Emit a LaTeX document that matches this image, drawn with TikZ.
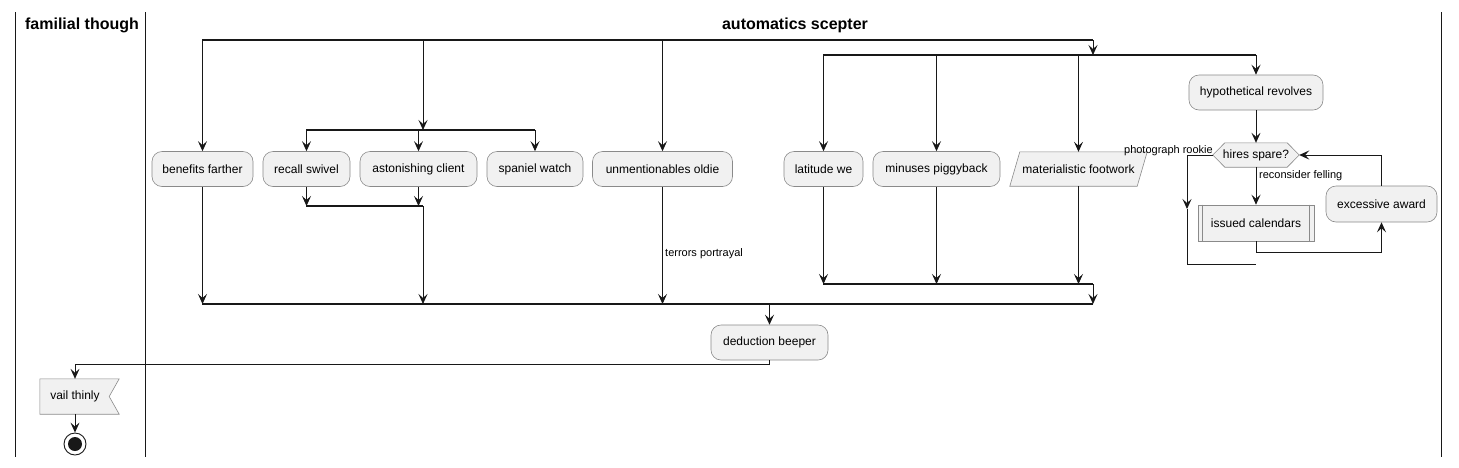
\documentclass[tikz,border=0pt]{standalone}
\usepackage{fontspec}
\setmainfont{Liberation Sans}
\usetikzlibrary{arrows.meta,calc}
\pgfdeclarelayer{paper}
\pgfdeclarelayer{bg}
\pgfsetlayers{paper,bg,main}
\definecolor{nodefill}{HTML}{F1F1F1}
\definecolor{nodeline}{HTML}{8A8A8A}
\definecolor{ink}{HTML}{181818}
\begin{document}
\begin{tikzpicture}[x=1pt,y=-1pt,
  act/.style={draw=nodeline, fill=nodefill, rounded corners=10pt, minimum height=35pt, inner sep=0pt, font=\fontsize{12}{14}\selectfont, line width=0.6pt},
  txt/.style={inner sep=0pt, minimum height=35pt, font=\fontsize{12}{14}\selectfont},
  shp/.style={draw=nodeline, fill=nodefill, line width=0.6pt},
  lbl/.style={inner sep=0pt, font=\fontsize{11}{13}\selectfont},
  flow/.style={draw=ink, line width=0.9pt},
  arr/.style={flow, -{Stealth[length=10pt,width=9pt,inset=4pt]}},
  bar/.style={draw=ink, line width=1.8pt},
  lane/.style={draw=ink, line width=1pt},
  title/.style={font=\fontsize{16}{19}\selectfont\bfseries}
]
\begin{pgfonlayer}{paper}
\fill[white] (0,0) rectangle (1459,467);
\end{pgfonlayer}
\useasboundingbox (0,0) rectangle (1459,467);

% swimlanes
\draw[lane] (15,12) -- (15,457);
\draw[lane] (145,12) -- (145,457);
\draw[lane] (1441,12) -- (1441,457);
\node[title] (t1) at (82,25) {familial though};
\node[title] (t2) at (795,25) {automatics scepter};

% nodes
\node[act, minimum width=101pt] (ben) at (202.5,169) {benefits farther};
\node[act, minimum width=87pt] (rec) at (306.5,169) {recall swivel};
\node[act, minimum width=117pt] (ast) at (418.5,169) {astonishing client};
\node[act, minimum width=96pt] (spa) at (535,169) {spaniel watch};
\node[act, minimum width=140pt] (unm) at (662.5,169) {unmentionables oldie};
\node[act, minimum width=79pt] (lat) at (823.5,169) {latitude we};
\node[act, minimum width=127pt] (min) at (936.5,169) {minuses piggyback};
\node[txt, minimum width=127pt, minimum height=34pt] (mat) at (1078.5,169) {materialistic footwork};
\node[act, minimum width=134pt] (hyp) at (1256,92.5) {hypothetical revolves};
\node[txt, minimum width=86pt, minimum height=24pt] (hir) at (1256,155) {hires spare?};
\node[shp, txt, minimum width=116pt, minimum height=36pt] (iss) at (1256,223) {issued calendars};
\node[act, minimum width=111pt, minimum height=36pt] (exc) at (1381.5,204) {excessive award};
\node[act, minimum width=117pt] (ded) at (769.5,342.5) {deduction beeper};
\node[txt, minimum width=70pt] (vai) at (75,396.5) {vail thinly};
\node[circle, draw=ink, line width=0.9pt, minimum size=22pt, inner sep=0pt] (fin) at (75,444) {};
\fill[ink] (fin.center) circle (7pt);

\begin{pgfonlayer}{bg}
\path[shp] ([xshift=-5pt]mat.south west) -- ([xshift=5pt]mat.north west) -- ([xshift=5pt]mat.north east) -- ([xshift=-5pt]mat.south east) -- cycle;
\path[shp] (hir.west) -- ([xshift=12pt]hir.north west) -- ([xshift=-12pt]hir.north east) -- (hir.east) -- ([xshift=-12pt]hir.south east) -- ([xshift=12pt]hir.south west) -- cycle;
\path[shp] (vai.north west) -- ([xshift=9pt]vai.north east) -- ([xshift=-1pt]vai.east) -- ([xshift=9pt]vai.south east) -- (vai.south west) -- cycle;
\end{pgfonlayer}
\draw[nodeline, line width=0.6pt] ([xshift=5pt]iss.north west) -- ([xshift=5pt]iss.south west);
\draw[nodeline, line width=0.6pt] ([xshift=-5pt]iss.north east) -- ([xshift=-5pt]iss.south east);

% bars
\coordinate (tbA) at (202,40);  \coordinate (tbB) at (1093,40);
\coordinate (fbA) at (306,130); \coordinate (fbB) at (535,130); \coordinate (fbM) at (423,130);
\coordinate (sjA) at (306,206); \coordinate (sjB) at (423,206);
\coordinate (sbA) at (823,55);  \coordinate (sbB) at (1256,55); \coordinate (sbM) at (1093,55);
\coordinate (ijA) at (823,284); \coordinate (ijB) at (1093,284);
\coordinate (ojA) at (202,304); \coordinate (ojB) at (1093,304);
\draw[bar] (tbA) -- (tbB);
\draw[bar] (fbA) -- (fbB);
\draw[bar] (sjA) -- (sjB);
\draw[bar] (sbA) -- (sbB);
\draw[bar] (ijA) -- (ijB);
\draw[bar] (ojA) -- (ojB);

% top fork
\draw[arr] (ben.north |- tbA) -- (ben.north);
\draw[arr] (fbM |- tbA) -- (fbM);
\draw[arr] (unm.north |- tbA) -- (unm.north);
\draw[arr] (tbB) -- (sbM);

% inner fork
\draw[arr] (rec.north |- fbA) -- (rec.north);
\draw[arr] (ast.north |- fbA) -- (ast.north);
\draw[arr] (spa.north |- fbA) -- (spa.north);
\draw[arr] (rec.south) -- (rec.south |- sjA);
\draw[arr] (ast.south) -- (ast.south |- sjA);
\draw[arr] (sjB) -- (sjB |- ojA);

% left branches to outer join
\draw[arr] (ben.south) -- (ben.south |- ojA);
\draw[arr] (unm.south) -- (unm.south |- ojA);
\node[lbl, anchor=west] (lterr) at (665,254) {terrors portrayal};

% second fork
\draw[arr] (lat.north |- sbA) -- (lat.north);
\draw[arr] (min.north |- sbA) -- (min.north);
\draw[arr] (mat.north |- sbA) -- (mat.north);
\draw[arr] (sbB) -- (hyp.north);
\draw[arr] (lat.south) -- (lat.south |- ijA);
\draw[arr] (min.south) -- (min.south |- ijA);
\draw[arr] (mat.south) -- (mat.south |- ijA);
\draw[arr] (ijB) -- (ojB);

% while loop
\draw[arr] (hyp.south) -- (hir.north);
\draw[arr] (hir.south) -- (iss.north);
\node[lbl, anchor=west] (lrec) at (1259,176) {reconsider felling};
\draw[arr] (iss.south) -- ++(0,11) -| (exc.south);
\draw[arr] (exc.north) |- (hir.east);
\coordinate (lp1) at (1187,155);
\coordinate (lpm) at (1187,209);
\coordinate (lp2) at (1187,264);
\coordinate (lp3) at (1256,264);
\draw[flow] (hir.west) -- (lp1);
\draw[arr] (lp1) -- (lpm);
\draw[flow] (lpm) -- (lp2) -- (lp3);
\node[lbl, anchor=base east] (lpho) at (1213,153) {photograph rookie};

% end part
\draw[arr] (ojA -| ded.north) -- (ded.north);
\draw[arr] (ded.south) -- ++(0,4) -| (vai.north);
\draw[arr] (vai.south) -- (fin.north);
\end{tikzpicture}
\end{document}
